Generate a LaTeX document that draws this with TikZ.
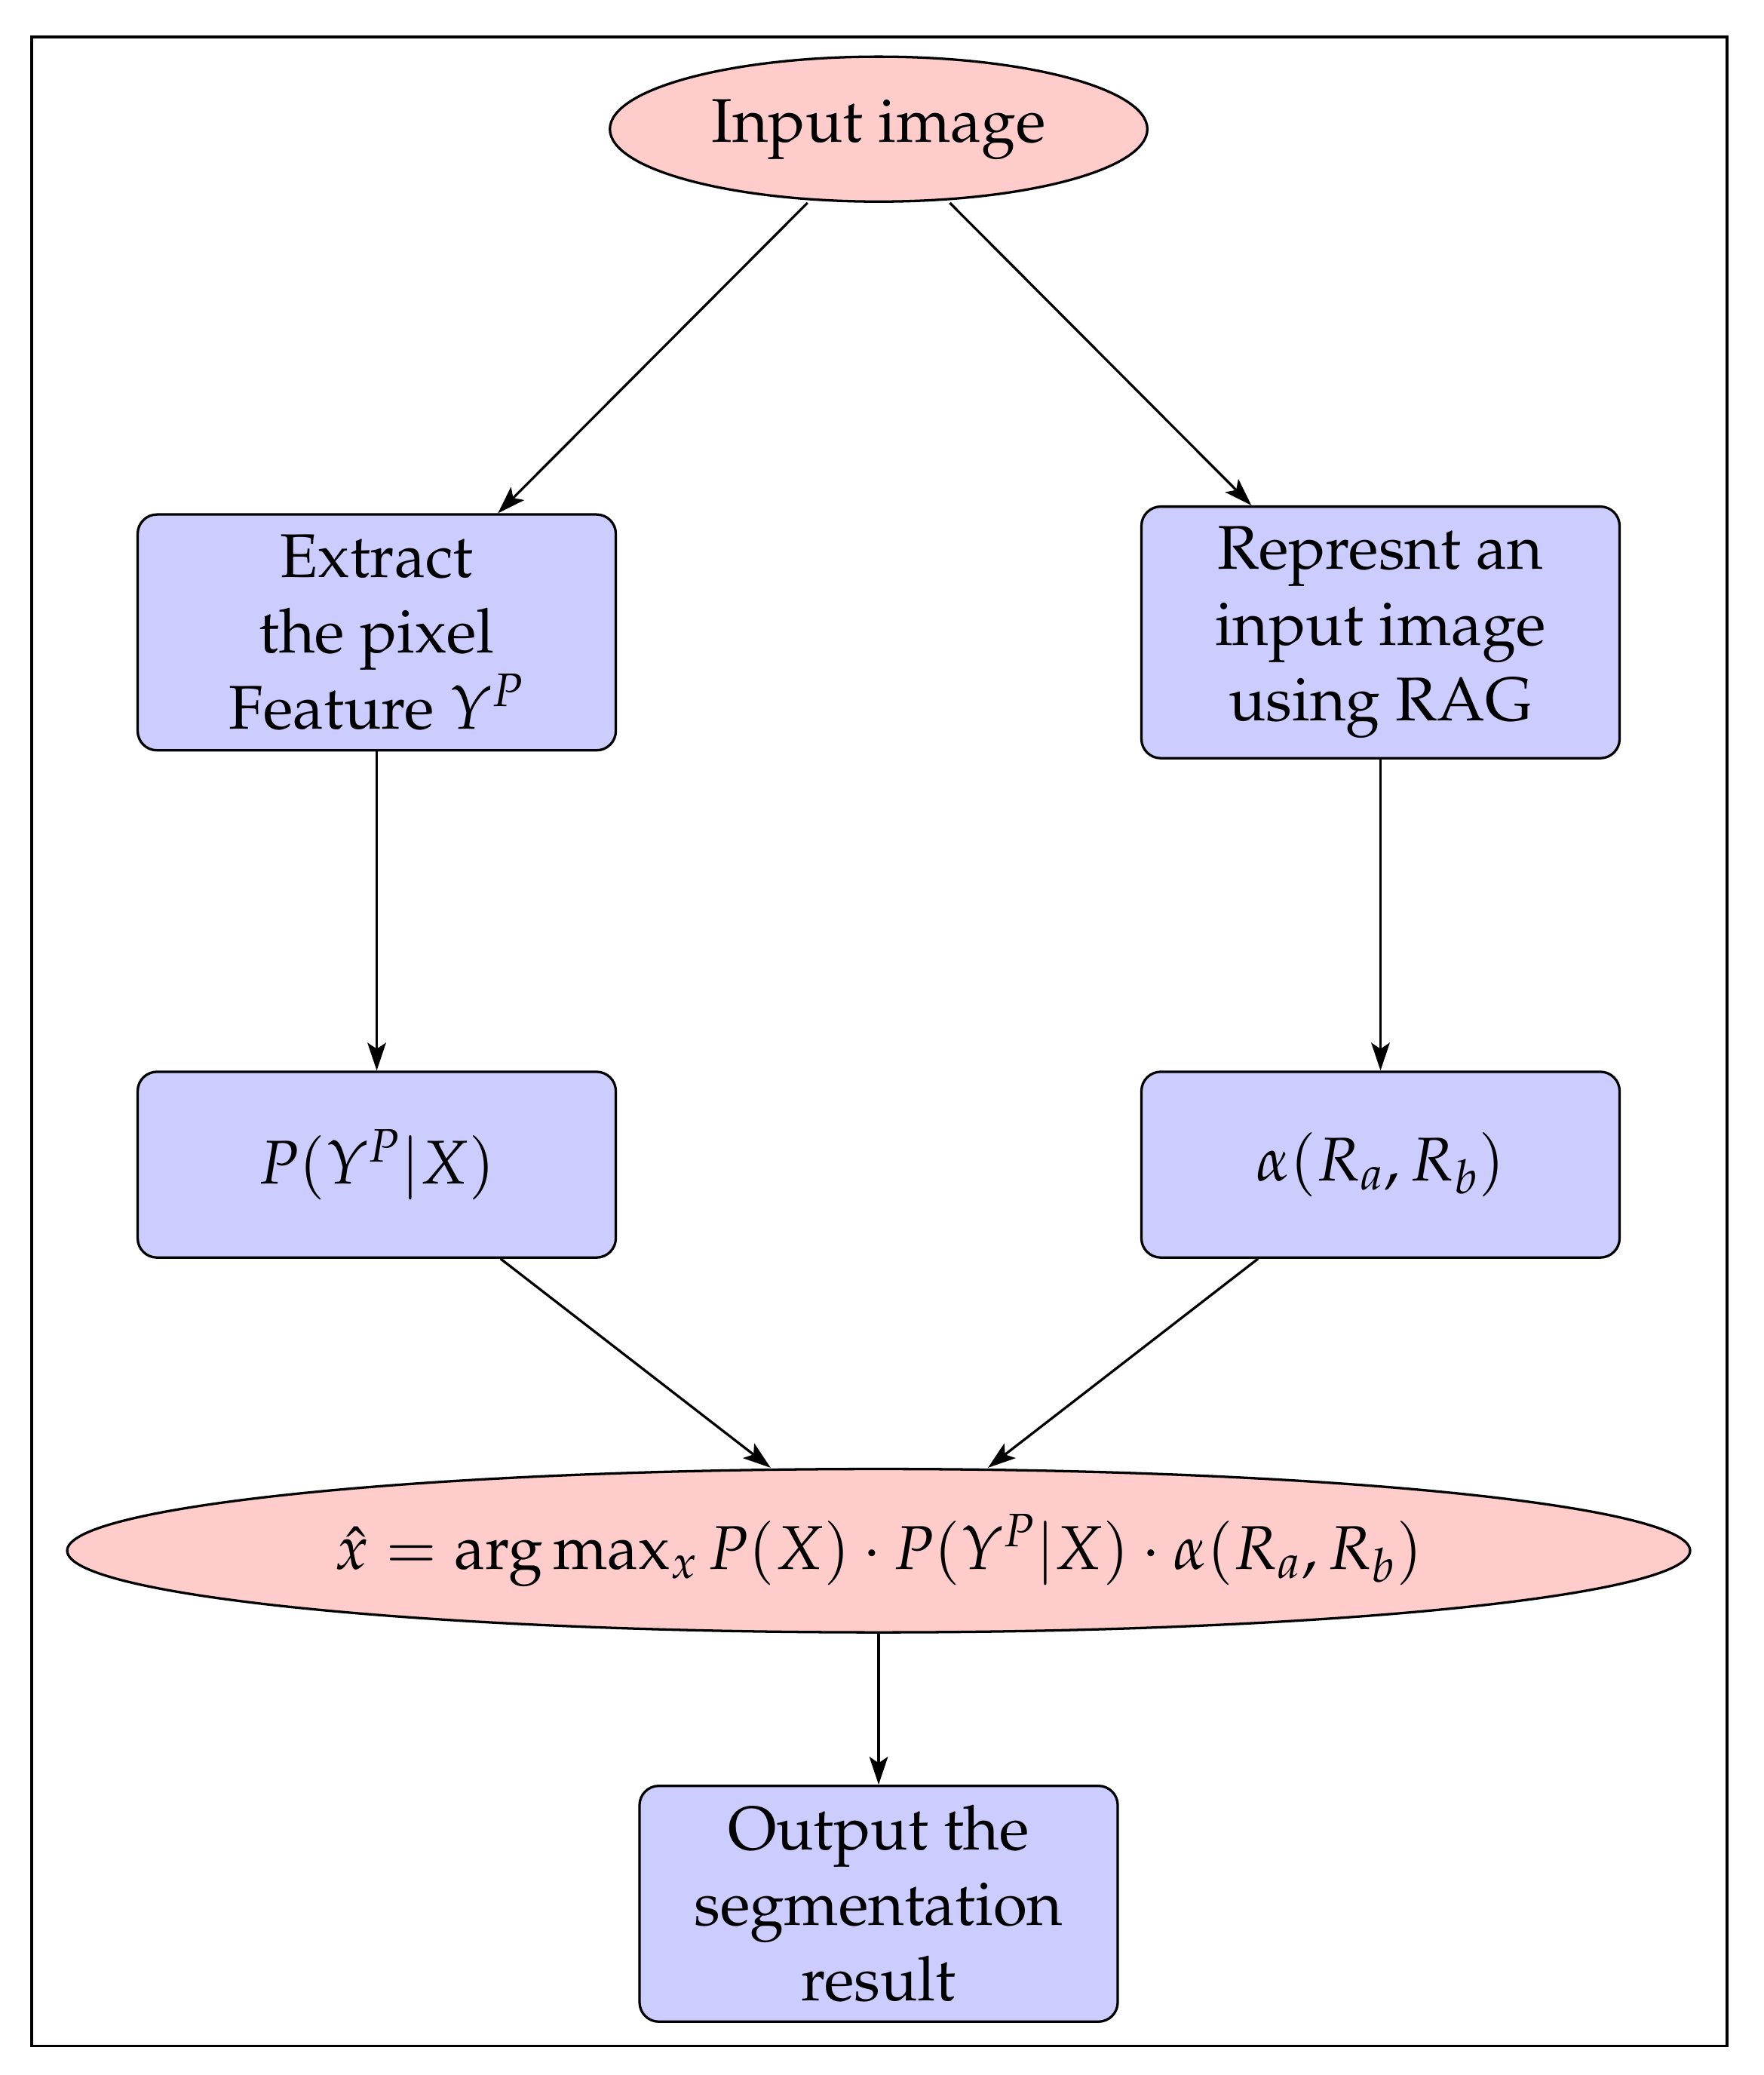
\documentclass[tikz,border=0pt]{standalone}
\usepackage[T1]{fontenc}
\usepackage{mathpazo}
\renewcommand{\rmdefault}{ppl}
\usepackage{tikz}
\usetikzlibrary{arrows.meta, positioning, calc, shapes.geometric}

\begin{document}
\begin{tikzpicture}[x=0.015cm, y=-0.015cm,
        stage/.style={draw, rectangle, rounded corners=0.22cm, fill=blue!20, line width=0.8pt,
            minimum width=363*0.015cm, align=center, font=\fontsize{20}{24.5}\selectfont},
        term/.style={draw, ellipse, fill=red!20, line width=0.8pt, inner sep=0pt,
            font=\fontsize{20}{24.5}\selectfont},
        arrow/.style={-{Stealth[length=9pt, width=6pt, inset=2pt]}, line width=0.8pt}
    ]

    % Frame
    \draw[line width=0.8pt] (24,28) rectangle (1311,1553);
    \useasboundingbox (0,0) rectangle (1339,1575);

    % Stages
    \node[term, minimum width=408*0.015cm, minimum height=110*0.015cm] (input) at (667,98) {Input image};
    \node[stage, minimum height=179*0.015cm] (extract) at (286,480) {Extract\\the pixel\\Feature $Y^P$};
    \node[stage, minimum height=191*0.015cm] (rag) at (1048,480) {Represnt an\\input image\\using RAG};
    \node[stage, minimum height=141*0.015cm] (prob) at (286,884) {$P(Y^P|X)$};
    \node[stage, minimum height=141*0.015cm] (alpha) at (1048,884) {$\alpha(R_a,R_b)$};
    \node[term, minimum width=1232*0.015cm, minimum height=124*0.015cm] (map) at (667,1177)
        {$\hat{x}=\arg\max_x P(X)\cdot P(Y^P|X)\cdot\alpha(R_a,R_b)$};
    \node[stage, minimum height=179*0.015cm] (output) at (667,1445) {Output the\\segmentation\\result};

    % Arrows
    \draw[arrow] ($(input.south)+(-54,0)$) -- ($(extract.north)+(92,0)$);
    \draw[arrow] ($(input.south)+(54,0)$) -- ($(rag.north)+(-98,0)$);
    \draw[arrow] (extract) -- (prob);
    \draw[arrow] (rag) -- (alpha);
    \draw[arrow] ($(prob.south)+(94,0)$) -- ($(map.north)+(-82,0)$);
    \draw[arrow] ($(alpha.south)+(-93,0)$) -- ($(map.north)+(83,0)$);
    \draw[arrow] (map) -- (output);

\end{tikzpicture}
\end{document}
